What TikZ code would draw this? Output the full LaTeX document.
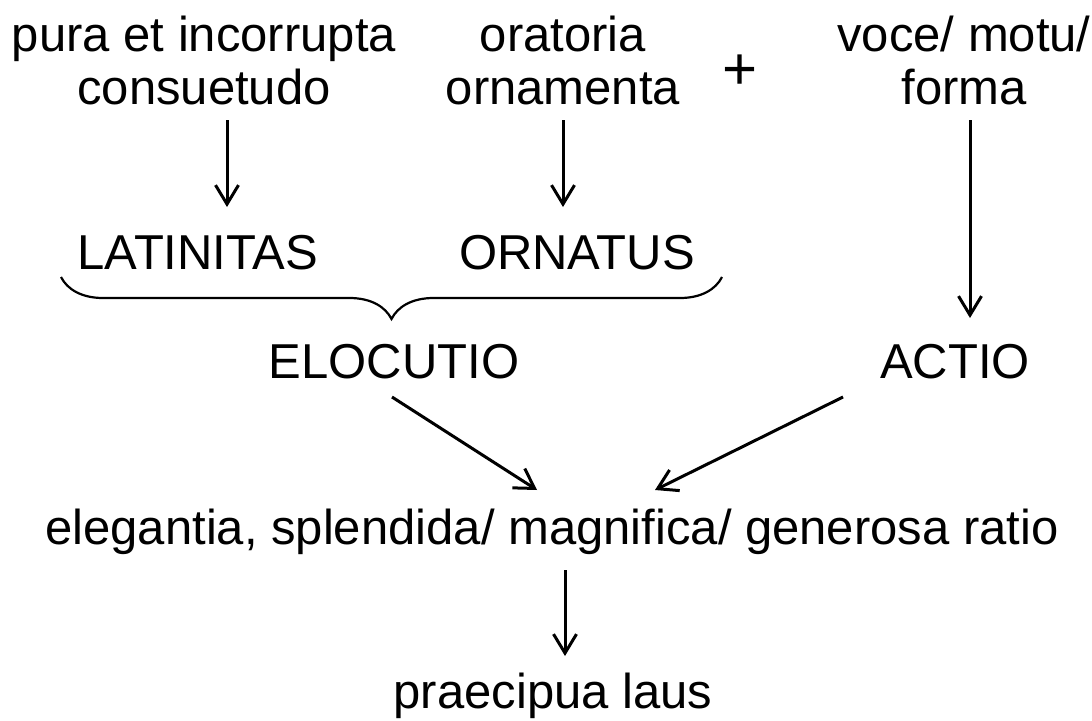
\documentclass[tikz,border=0pt]{standalone}
\usepackage{fontspec}
\setmainfont{Liberation Sans}
\usetikzlibrary{arrows.meta,decorations.pathreplacing}
\begin{document}
\begin{tikzpicture}[x=1pt,y=-1pt,
  lbl/.style={font=\fontsize{49}{53}\selectfont, align=center, inner sep=0pt, anchor=base},
  arr/.style={line width=3pt, -{Straight Barb[length=19pt,width=23pt,line width=3pt]}},
  bracestyle/.style={line width=2.2pt, decorate, decoration={brace, amplitude=42pt, mirror}}]
\useasboundingbox (0,0) rectangle (1092,720);
% top row (anchor = baseline of the last line)
\node[lbl] (t1) at (204,104) {pura et incorrupta\\consuetudo};
\node[lbl] (t2) at (563,104) {oratoria\\ornamenta};
\node[lbl, font=\fontsize{60}{60}\selectfont] (plus) at (740,89) {+};
\node[lbl] (t3) at (964,104) {voce/ motu/\\forma};
% middle row
\node[lbl] (lat) at (198,269) {LATINITAS};
\node[lbl] (orn) at (577,269) {ORNATUS};
\node[lbl] (eloc) at (394,378) {ELOCUTIO};
\node[lbl] (actio) at (955,378) {ACTIO};
\node[lbl] (eleg) at (552,544) {elegantia, splendida/ magnifica/ generosa ratio};
\node[lbl] (laus) at (553,708) {praecipua laus};
% arrow end points
\coordinate (a1s) at (227,120); \coordinate (a1e) at (227,207);
\coordinate (a2s) at (563,120); \coordinate (a2e) at (563,207);
\coordinate (a3s) at (970,120); \coordinate (a3e) at (970,318);
\coordinate (a4s) at (392,397); \coordinate (a4e) at (537,490);
\coordinate (a5s) at (843,397); \coordinate (a5e) at (655,490);
\coordinate (a6s) at (565,570); \coordinate (a6e) at (565,656);
\coordinate (bl) at (61,277); \coordinate (br) at (722,277);
\draw[arr] (a1s) -- (a1e);
\draw[arr] (a2s) -- (a2e);
\draw[arr] (a3s) -- (a3e);
\draw[arr] (a4s) -- (a4e);
\draw[arr] (a5s) -- (a5e);
\draw[arr] (a6s) -- (a6e);
\draw[bracestyle] (bl) -- (br);
\end{tikzpicture}
\end{document}
